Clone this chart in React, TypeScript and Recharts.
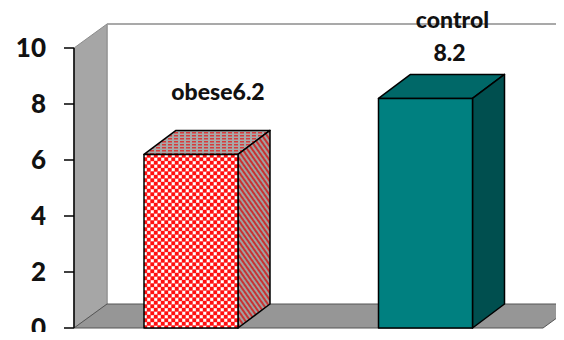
import React from 'react';
import { BarChart, Bar, XAxis, YAxis, LabelList, ReferenceArea } from 'recharts';

const groups = ['obese', 'control'];
const values = [6.2, 8.2];
const labelWrap = [false, true];
const yTicks = [0, 2, 4, 6, 8, 10];
const gridTicks = [0, 1, 2];

const data = groups.map((name, i) => ({ name, value: values[i], wrap: labelWrap[i] }));

const DX = 32;
const DY = 24;
const FONT = 'Lato, "Open Sans", sans-serif';

const faces = [
  { front: 'url(#obeseFront)', top: 'url(#obeseTop)', side: 'url(#obeseSide)' },
  { front: '#008080', top: '#006868', side: '#004f4f' },
];

const Walls = (props: any) => {
  const { x, y, width, height } = props;
  const L = x;
  const R = x + width;
  const T = y;
  const B = y + height;
  const wx = 33;
  return (
    <g>
      <rect x={L + wx} y={T - DY} width={width + 60} height={height} fill="#fff" stroke="none" />
      <line x1={L + wx} y1={T - DY} x2={R + 80} y2={T - DY} stroke="#8c8c8c" strokeWidth={1.5} />
      <line x1={L + wx} y1={T - DY} x2={L + wx} y2={B - DY} stroke="#b0b0b0" strokeWidth={1.5} />
      <polygon
        points={`${L},${T} ${L + wx},${T - DY} ${L + wx},${B - DY} ${L},${B}`}
        fill="#a6a6a6"
        stroke="#8c8c8c"
        strokeWidth={1}
      />
      <polygon
        points={`${L},${B} ${L + wx},${B - DY} ${R + wx},${B - DY} ${R},${B}`}
        fill="#969696"
        stroke="#555"
        strokeWidth={1}
      />
    </g>
  );
};

const Box = (props: any) => {
  const { x, y, width, height, index } = props;
  if (height == null || height <= 0) return null;
  const f = faces[index % faces.length];
  const w = width;
  const h = height;
  return (
    <g stroke="#000" strokeWidth={1.5} strokeLinejoin="round">
      <polygon points={`${x},${y} ${x + DX},${y - DY} ${x + w + DX},${y - DY} ${x + w},${y}`} fill={f.top} />
      <polygon
        points={`${x + w},${y} ${x + w + DX},${y - DY} ${x + w + DX},${y + h - DY} ${x + w},${y + h}`}
        fill={f.side}
      />
      <rect x={x} y={y} width={w} height={h} fill={f.front} />
    </g>
  );
};

const BoxLabel = (props: any) => {
  const { x, y, width, value, index } = props;
  const d = data[index];
  const cx = x + width / 2 + 27;
  const mid = y - 62;
  const style = { fontFamily: FONT, fontWeight: 900, fontSize: 23, fill: '#111' };
  if (d && d.wrap) {
    return (
      <g>
        <text x={cx} y={mid - 16.5 + 8} textAnchor="middle" style={style}>
          {d.name}
        </text>
        <text x={cx - 3} y={mid + 16.5 + 8} textAnchor="middle" style={style}>
          {value}
        </text>
      </g>
    );
  }
  return (
    <text x={cx} y={mid + 8} textAnchor="middle" style={style}>
      {(d ? d.name : '') + value}
    </text>
  );
};

export default function App() {
  return (
    <div style={{ width: 564, height: 340, margin: -8, background: '#fff' }}>
      <BarChart width={564} height={340} data={data} margin={{ top: 48, right: 21, bottom: 11, left: 14 }}>
        <defs>
          <pattern id="obeseFront" patternUnits="userSpaceOnUse" width="7" height="7">
            <rect width="7" height="7" fill="#ff9a9a" />
            <rect x="0" y="0" width="3.5" height="3.5" fill="#ff1010" />
            <rect x="3.5" y="3.5" width="3.5" height="3.5" fill="#ff1010" />
            <rect x="4" y="0.5" width="2.5" height="2.5" fill="#ffffff" />
            <rect x="0.5" y="4" width="2.5" height="2.5" fill="#ffffff" />
          </pattern>
          <pattern id="obeseSide" patternUnits="userSpaceOnUse" width="4" height="4" patternTransform="rotate(-35)">
            <rect width="4" height="4" fill="#a0a0a0" />
            <rect width="2" height="4" fill="#c83232" />
          </pattern>
          <pattern id="obeseTop" patternUnits="userSpaceOnUse" width="6" height="3">
            <rect width="6" height="3" fill="#a8a8a8" />
            <rect width="4" height="1.5" fill="#d83a3a" />
          </pattern>
        </defs>
        <XAxis xAxisId="cat" dataKey="name" type="category" hide />
        <XAxis
          xAxisId="grid"
          type="number"
          domain={[0, 2]}
          ticks={gridTicks}
          height={1}
          axisLine={{ stroke: '#000', strokeWidth: 1.5 }}
          tickLine={{ stroke: '#000', strokeWidth: 1.5 }}
          tickSize={6}
          tickFormatter={() => ''}
        />
        <YAxis
          domain={[0, 10]}
          ticks={yTicks}
          interval={0}
          width={60}
          axisLine={{ stroke: '#000', strokeWidth: 1.5 }}
          tickLine={{ stroke: '#000', strokeWidth: 1.5 }}
          tickSize={10}
          tickMargin={18}
          tick={{ fontFamily: FONT, fontWeight: 900, fontSize: 26, fill: '#111' }}
        />
        <ReferenceArea xAxisId="cat" shape={<Walls />} ifOverflow="visible" />
        <Bar xAxisId="cat" dataKey="value" barSize={94} shape={<Box />} isAnimationActive={false}>
          <LabelList dataKey="value" content={<BoxLabel />} />
        </Bar>
      </BarChart>
    </div>
  );
}
